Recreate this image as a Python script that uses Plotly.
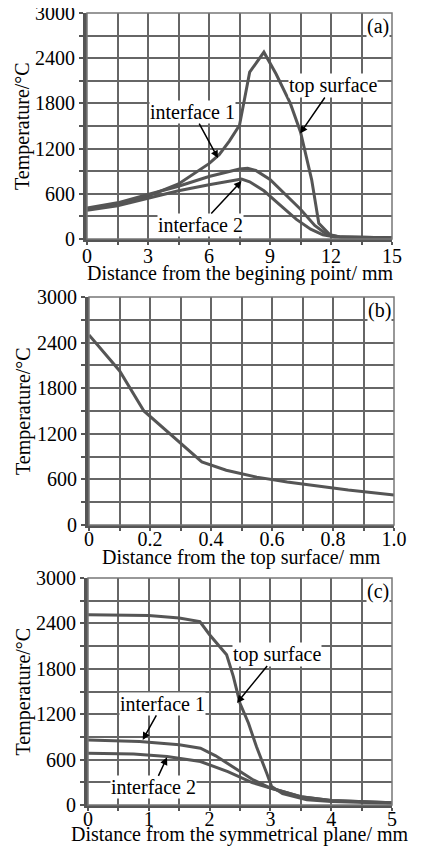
import plotly.graph_objects as go

# ---------------- data ----------------
# panel (a): distance from the beginning point (mm)
a_top_x = [0, 1.5, 3, 4.5, 6, 6.5, 7.0, 7.5, 8.0, 8.7, 9.3, 10.0, 10.5, 11.05, 11.4, 11.95, 12.5, 13.5, 15]
a_top_y = [400, 455, 570, 730, 1000, 1120, 1300, 1510, 2215, 2480, 2190, 1800, 1420, 785, 210, 57, 25, 18, 15]
a_if1_x = [0, 1.5, 3, 4.5, 6, 7.5, 7.9, 8.3, 9.0, 9.8, 10.5, 11.2, 11.8, 12.5, 15]
a_if1_y = [410, 480, 590, 700, 830, 930, 940, 910, 790, 580, 395, 180, 60, 25, 15]
a_if2_x = [0, 1.5, 3, 4.5, 6, 7.0, 7.6, 8.0, 8.7, 9.5, 10.3, 11.0, 11.6, 12.2, 15]
a_if2_y = [380, 440, 540, 640, 720, 770, 795, 760, 640, 450, 260, 130, 55, 25, 15]

# panel (b): distance from the top surface (mm)
b_x = [0, 0.1, 0.18, 0.3, 0.37, 0.45, 0.55, 0.65, 0.75, 0.85, 1.0]
b_y = [2500, 2030, 1500, 1070, 830, 720, 630, 565, 510, 460, 395]

# panel (c): distance from the symmetrical plane (mm)
c_top_x = [0, 1.0, 1.5, 1.84, 2.0, 2.28, 2.39, 2.5, 2.64, 2.77, 2.94, 3.02, 3.2, 3.6, 4.0, 5]
c_top_y = [2515, 2505, 2470, 2425, 2250, 1985, 1700, 1345, 1080, 772, 419, 243, 150, 70, 45, 22]
c_if1_x = [0, 0.85, 1.5, 1.85, 2.1, 2.4, 2.7, 3.0, 3.5, 4.0, 5]
c_if1_y = [860, 840, 795, 750, 650, 490, 340, 225, 110, 60, 30]
c_if2_x = [0, 0.75, 1.3, 1.85, 2.3, 2.7, 3.0, 3.5, 4.0, 5]
c_if2_y = [685, 675, 640, 575, 440, 295, 225, 110, 60, 30]

# ticks
a_xticks = [0, 1.5, 3, 4.5, 6, 7.5, 9, 10.5, 12, 13.5, 15]
a_xtext = ["0", "", "3", "", "6", "", "9", "", "12", "", "15"]
b_xticks = [0, 0.1, 0.2, 0.3, 0.4, 0.5, 0.6, 0.7, 0.8, 0.9, 1.0]
b_xtext = ["0", "", "0.2", "", "0.4", "", "0.6", "", "0.8", "", "1.0"]
c_xticks = [0, 0.5, 1, 1.5, 2, 2.5, 3, 3.5, 4, 4.5, 5]
c_xtext = ["0", "", "1", "", "2", "", "3", "", "4", "", "5"]
yticks = [0, 300, 600, 900, 1200, 1500, 1800, 2100, 2400, 2700, 3000]
ytext = ["0", "", "600", "", "1200", "", "1800", "", "2400", "", "3000"]

x_titles = ["Distance from the begining point/ mm",
            "Distance from the top surface/ mm",
            "Distance from the symmetrical plane/ mm"]
y_title = "Temperature/°C"
panel_labels = ["(a)", "(b)", "(c)"]

# ---------------- figure ----------------
FONT = "Liberation Serif"
LINE = "#555555"
GRID = "#666666"
W, H = 424, 848
OFF = 8  # page body margin

fig = go.Figure()

def add_line(x, y, ax):
    fig.add_trace(go.Scatter(x=x, y=y, mode="lines", xaxis="x" + ax, yaxis="y" + ax,
                             line=dict(color=LINE, width=3), showlegend=False,
                             hoverinfo="skip"))

add_line(a_top_x, a_top_y, "")
add_line(a_if1_x, a_if1_y, "")
add_line(a_if2_x, a_if2_y, "")
add_line(b_x, b_y, "2")
add_line(c_top_x, c_top_y, "3")
add_line(c_if1_x, c_if1_y, "3")
add_line(c_if2_x, c_if2_y, "3")

# plot-area pixel boxes in page coords (left, right, top, bottom)
boxes = [(87, 392, 13, 239), (89, 394, 297, 525), (88, 392, 578, 805)]
xtitle_y = [273, 557, 834]
tick_standoff = [-6, -9, -9]
xranges = [[0, 15], [0, 1.0], [0, 5]]
xtv = [(a_xticks, a_xtext), (b_xticks, b_xtext), (c_xticks, c_xtext)]

def px(x):
    return (x - OFF) / W

def py(y):
    return 1 - (y - OFF) / H

layout = dict(width=W, height=H, margin=dict(l=0, r=0, t=0, b=0, autoexpand=False),
              paper_bgcolor="white", plot_bgcolor="white",
              font=dict(family=FONT, size=20, color="black"))

for i, (l, r, t, b) in enumerate(boxes):
    sfx = "" if i == 0 else str(i + 1)
    layout["xaxis" + sfx] = dict(
        domain=[px(l), px(r)], range=xranges[i], anchor="y" + sfx, automargin=False,
        tickmode="array", tickvals=xtv[i][0], ticktext=xtv[i][1],
        showline=True, linecolor=LINE, linewidth=3,
        showgrid=True, gridcolor=GRID, gridwidth=2,
        ticks="outside", ticklen=3, tickwidth=2, tickcolor=LINE,
        ticklabelstandoff=tick_standoff[i], ticklabeloverflow="allow",
        zeroline=False, tickfont=dict(family=FONT, size=20, color="black"),
    )
    layout["yaxis" + sfx] = dict(
        domain=[py(b), py(t)], range=[0, 3000], anchor="x" + sfx, automargin=False,
        tickmode="array", tickvals=yticks, ticktext=ytext,
        showline=True, linecolor=LINE, linewidth=4,
        showgrid=True, gridcolor=GRID, gridwidth=2,
        ticks="outside", ticklen=4, tickwidth=2, tickcolor=LINE,
        ticklabeloverflow="allow",
        zeroline=False, tickfont=dict(family=FONT, size=20, color="black"),
    )

fig.update_layout(**layout)

# axis titles
for i, (l, r, t, b) in enumerate(boxes):
    fig.add_annotation(text=x_titles[i], xref="paper", yref="paper",
                       x=px((l + r) / 2), y=py(xtitle_y[i]), xanchor="center",
                       yanchor="middle", showarrow=False,
                       font=dict(family=FONT, size=20, color="black"))
    fig.add_annotation(text=y_title, xref="paper", yref="paper", textangle=-90,
                       x=px(23), y=py((t + b) / 2), xanchor="center",
                       yanchor="middle", showarrow=False,
                       font=dict(family=FONT, size=20, color="black"))

# right/top borders
for i in range(3):
    sfx = "" if i == 0 else str(i + 1)
    fig.add_shape(type="rect", xref="x" + sfx + " domain", yref="y" + sfx + " domain",
                  x0=0, x1=1, y0=0, y1=1, line=dict(color="#777777", width=1.5),
                  layer="above")

# panel labels
for i, lab in enumerate(panel_labels):
    sfx = "" if i == 0 else str(i + 1)
    fig.add_annotation(text=lab, xref="x" + sfx + " domain", yref="y" + sfx + " domain",
                       x=0.995, y=0.995, xanchor="right", yanchor="top", showarrow=False,
                       bgcolor="white", borderpad=0,
                       font=dict(family=FONT, size=20, color="black"))

# arrow annotations (tip at data point, text offset in px)
arrows = [
    ("interface 1", 6.44, 1075, -25, -46, ""),
    ("top surface", 10.48, 1400, 33, -48, ""),
    ("interface 2", 7.6, 770, -41, 44, ""),
    ("interface 1", 0.9, 860, 20, -36, "3"),
    ("interface 2", 1.3, 630, -14, 30, "3"),
    ("top surface", 2.45, 1348, 40, -49, "3"),
]
for text, x, y, ax, ay, sfx in arrows:
    fig.add_annotation(text=text, x=x, y=y, xref="x" + sfx, yref="y" + sfx,
                       ax=ax, ay=ay, showarrow=True, arrowhead=2, arrowsize=1,
                       arrowwidth=1.5, arrowcolor="black", bgcolor="white", borderpad=0,
                       font=dict(family=FONT, size=20, color="black"))

fig.write_html("out.html")
